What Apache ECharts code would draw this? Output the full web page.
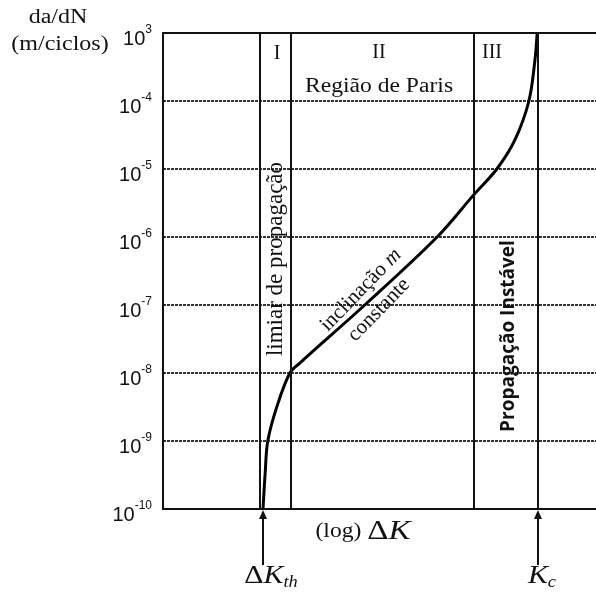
<!DOCTYPE html>
<html><head><meta charset="utf-8">
<script src="https://cdn.jsdelivr.net/npm/echarts@6/dist/echarts.min.js"></script>
<style>html,body{margin:0;padding:0;background:#fff}#c{width:596px;height:595px}</style>
</head><body><div id="c"></div>
<script>
// log ΔK (arbitrary units) along the curve
var curveLogDK = [2.31, 2.36, 2.42, 2.63, 2.93, 3.16, 4.71, 6.33, 7.18, 7.71, 8.13, 8.45, 8.59, 8.64];
// da/dN (m/ciclos)
var curveDaDN = [1e-10, 3.4e-10, 1e-9, 3.2e-9, 1e-8, 1.4e-8, 1.07e-7, 1e-6, 4.2e-6, 1e-5, 2.7e-5, 1e-4, 4e-4, 1e-3];
// region boundaries (log ΔK)
var boundaries = [2.24, 2.96, 7.18, 8.66];
var dKth = 2.31, Kc = 8.66;
// y tick labels (superscripts as printed)
var yExponents = [-10, -9, -8, -7, -6, -5, -4, -3];
var yTickSup = ['-10', '-9', '-8', '-7', '-6', '-5', '-4', '3'];

var serif = '"Liberation Serif","DejaVu Serif",serif';
var sans = '"Liberation Sans",Arial,sans-serif';

var chart = echarts.init(document.getElementById('c'));
var data = curveLogDK.map(function(x,i){ return [x, Math.log10(curveDaDN[i])]; });
var lineX = {show:true, lineStyle:{color:'#111', width:2}};

chart.setOption({
  animation:false,
  grid:{left:163, top:33, width:433, height:476},
  xAxis:[
    {type:'value', min:0, max:10, interval:1, axisLine:lineX, axisTick:{show:false}, axisLabel:{show:false}, splitLine:{show:false}},
    {type:'value', position:'top', min:0, max:10, interval:1, axisLine:lineX, axisTick:{show:false}, axisLabel:{show:false}, splitLine:{show:false}}
  ],
  yAxis:{type:'value', min:-10, max:-3, interval:1,
    axisLine:lineX, axisTick:{show:false},
    splitLine:{show:true, lineStyle:{color:'#333', width:2, type:[3,1]}},
    axisLabel:{margin:11, formatter:function(v){ return '{b|10}{s|' + yTickSup[yExponents.indexOf(v)] + '}'; },
      rich:{b:{fontFamily:sans, fontSize:20, color:'#111', padding:[12,0,0,0]}, s:{fontFamily:sans, fontSize:12, color:'#111', padding:[0,0,6,0]}}}
  },
  series:[{type:'line', xAxisIndex:0, data:data, smooth:0.35, showSymbol:false, lineStyle:{color:'#000', width:3},
    markLine:{silent:true, symbol:'none', label:{show:false}, lineStyle:{color:'#111', width:2, type:'solid'},
      data: boundaries.map(function(b){ return {xAxis:b}; })}
  }]
});

var xth = chart.convertToPixel({xAxisIndex:0}, dKth);
var xkc = chart.convertToPixel({xAxisIndex:0}, Kc);
var yb = chart.convertToPixel({yAxisIndex:0}, -10);

function arrow(x){
  return [
    {type:'line', shape:{x1:x, y1:yb+56, x2:x, y2:yb+8}, style:{stroke:'#111', lineWidth:2}},
    {type:'polygon', shape:{points:[[x,yb+1],[x-4,yb+10],[x+4,yb+10]]}, style:{fill:'#111'}}
  ];
}
function txt(t, x, y, font, sx){
  return {type:'text', x:x, y:y, scaleX:sx||1, style:{text:t, font:font, fill:'#111', align:'center', verticalAlign:'middle'}};
}
var g = [].concat(arrow(xth), arrow(xkc));
g.push(txt('da/dN', 58, 18, '20px '+serif, 1.2));
g.push(txt('(m/ciclos)', 60, 45, '20px '+serif, 1.2));
g.push(txt('I', 277, 54, '20px '+serif));
g.push(txt('II', 379, 53, '20px '+serif));
g.push(txt('III', 492, 53, '20px '+serif));
g.push(txt('Região de Paris', 379, 87, '20px '+serif, 1.18));
g.push({type:'text', x:276, y:259, rotation:Math.PI/2, style:{text:'limiar de propagação', font:'23px '+serif, fill:'#111', align:'center', verticalAlign:'middle'}});
g.push({type:'text', x:361, y:290, rotation:0.8, style:{text:'{n|inclinação }{i|m}', fill:'#111', align:'center', verticalAlign:'middle', rich:{n:{fontFamily:serif, fontSize:21, fill:'#111'}, i:{fontFamily:serif, fontSize:21, fontStyle:'italic', fill:'#111'}}}});
g.push({type:'text', x:379, y:310, rotation:0.8, style:{text:'constante', font:'21px '+serif, fill:'#111', align:'center', verticalAlign:'middle'}});
g.push({type:'text', x:509, y:336, rotation:Math.PI/2, style:{text:'Propagação Instável', font:'bold 19px "Open Sans",sans-serif', fill:'#111', align:'center', verticalAlign:'middle'}});
g.push({type:'text', x:363, y:532, scaleX:1.18, style:{text:'{a|(log) }{d|Δ}{k|K}', align:'center', verticalAlign:'middle', rich:{a:{fontFamily:serif, fontSize:20, fill:'#111'}, d:{fontFamily:serif, fontSize:28, fill:'#111'}, k:{fontFamily:serif, fontSize:28, fontStyle:'italic', fill:'#111'}}}});
g.push({type:'text', x:xth+8, y:576, scaleX:1.15, style:{text:'{d|Δ}{k|K}{s|th}', align:'center', verticalAlign:'middle', rich:{d:{fontFamily:serif, fontSize:26, fill:'#111'}, k:{fontFamily:serif, fontSize:26, fontStyle:'italic', fill:'#111'}, s:{fontFamily:serif, fontSize:16, fontStyle:'italic', fill:'#111', padding:[14,0,0,0]}}}});
g.push({type:'text', x:xkc+4, y:576, scaleX:1.15, style:{text:'{k|K}{s|c}', align:'center', verticalAlign:'middle', rich:{k:{fontFamily:serif, fontSize:26, fontStyle:'italic', fill:'#111'}, s:{fontFamily:serif, fontSize:16, fontStyle:'italic', fill:'#111', padding:[14,0,0,0]}}}});
chart.setOption({graphic:g});
</script></body></html>
